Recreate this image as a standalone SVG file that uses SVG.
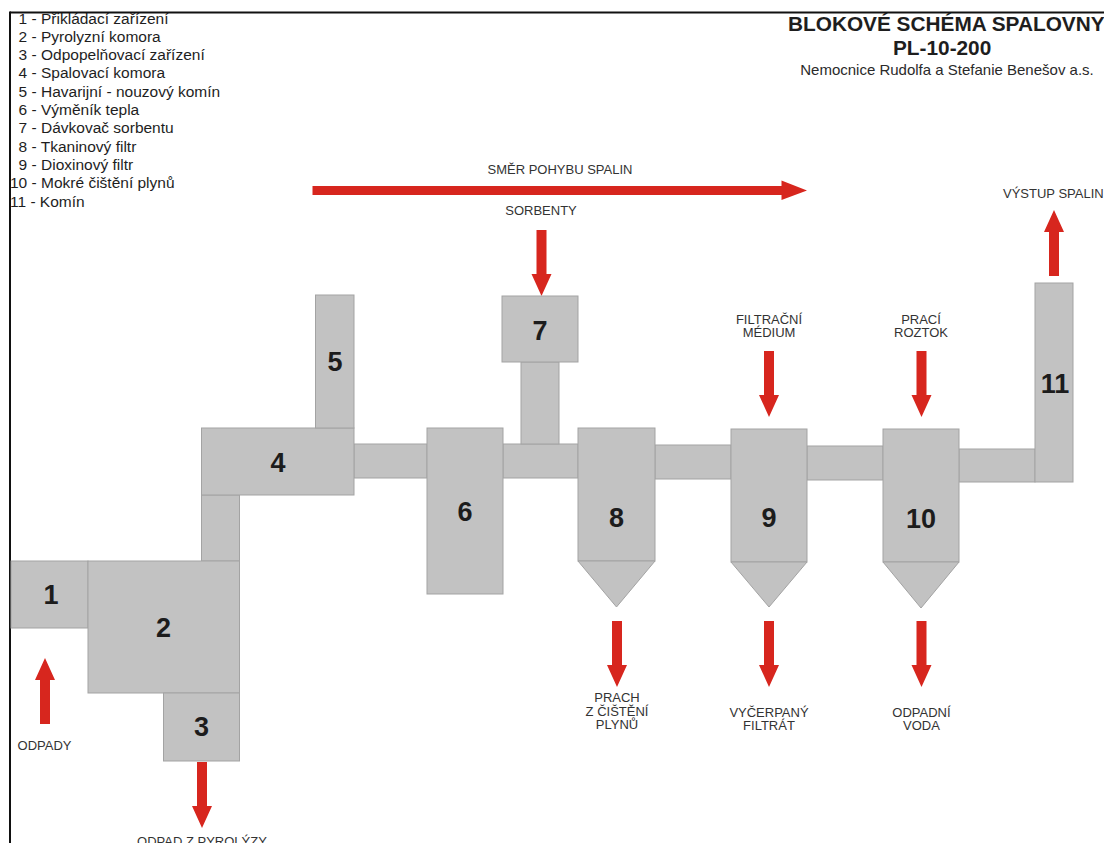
<svg xmlns="http://www.w3.org/2000/svg" xmlns:xlink="http://www.w3.org/1999/xlink" width="1104" height="843" viewBox="0 0 1104 843">
  <style>
    .box { fill: #c2c2c2; stroke: #a3a3a3; stroke-width: 1; }
    .num { font-family: "Liberation Sans", Arial, sans-serif; font-weight: bold; font-size: 27px; fill: #1c1c1c; text-anchor: middle; }
    .lbl { font-family: "Liberation Sans", Arial, sans-serif; font-size: 13px; fill: #333333; text-anchor: middle; }
    .lbl-start { font-family: "Liberation Sans", Arial, sans-serif; font-size: 13px; fill: #333333; text-anchor: start; }
    .leg { font-family: "Liberation Sans", Arial, sans-serif; font-size: 15.5px; fill: #1e1e1e; }
    .title { font-family: "Liberation Sans", Arial, sans-serif; font-weight: bold; font-size: 20.8px; fill: #1e1e1e; }
    .sub { font-family: "Liberation Sans", Arial, sans-serif; font-size: 15px; fill: #2a2a2a; text-anchor: middle; }
    .arrow { fill: #d7261e; }
  </style>
  <defs>
    <path id="arrowDown" d="M-5,0 H5 V44 H10 L0,66 L-10,44 H-5 Z"/>
    <path id="arrowUp" d="M-5,0 H5 V-44 H10 L0,-66 L-10,-44 H-5 Z"/>
  </defs>
  <rect x="0" y="0" width="1104" height="843" fill="#ffffff"/>

  <g id="legend">
    <text class="leg" x="18.6" y="23.5">1 - Přikládací zařízení</text>
    <text class="leg" x="18.6" y="41.8">2 - Pyrolyzní komora</text>
    <text class="leg" x="18.6" y="60.1">3 - Odpopelňovací zařízení</text>
    <text class="leg" x="18.6" y="78.4">4 - Spalovací komora</text>
    <text class="leg" x="18.6" y="96.7">5 - Havarijní - nouzový komín</text>
    <text class="leg" x="18.6" y="115">6 - Výměník tepla</text>
    <text class="leg" x="18.6" y="133.3">7 - Dávkovač sorbentu</text>
    <text class="leg" x="18.6" y="151.6">8 - Tkaninový filtr</text>
    <text class="leg" x="18.6" y="169.9">9 - Dioxinový filtr</text>
    <text class="leg" x="10" y="188.2">10 - Mokré čištění plynů</text>
    <text class="leg" x="10" y="206.5">11 - Komín</text>
  </g>

  <g id="frame">
    <rect x="0" y="0" width="1104" height="11.5" fill="#ffffff"/>
    <line x1="10" y1="12.5" x2="1104" y2="12.5" stroke="#111111" stroke-width="2"/>
    <line x1="10" y1="11.5" x2="10" y2="843" stroke="#111111" stroke-width="2"/>
  </g>

  <g id="title">
    <text class="title" x="788" y="31">BLOKOVÉ SCHÉMA SPALOVNY</text>
    <text class="title" x="893" y="55">PL-10-200</text>
    <text class="sub" x="947" y="75">Nemocnice Rudolfa a Stefanie Benešov a.s.</text>
  </g>

  <g id="connectors">
    <g id="pipes">
      <rect class="box" x="201.5" y="495" width="38" height="66"/>
      <rect class="box" x="354" y="444" width="73" height="34"/>
      <rect class="box" x="503" y="444" width="75" height="34"/>
      <rect class="box" x="521" y="362" width="38" height="82"/>
      <rect class="box" x="655" y="445" width="76" height="34"/>
      <rect class="box" x="807" y="446" width="76" height="34"/>
      <rect class="box" x="959" y="449" width="76" height="33"/>
    </g>
    <g id="flows">
      <path class="arrow" d="M312.5,186 H781.5 V180.5 L807,190.5 L781.5,200 V195 H312.5 Z"/>
      <use class="arrow" xlink:href="#arrowDown" x="541.5" y="230"/>
      <use class="arrow" xlink:href="#arrowDown" x="769" y="351"/>
      <use class="arrow" xlink:href="#arrowDown" x="921.5" y="351"/>
      <use class="arrow" xlink:href="#arrowUp" x="1054" y="276"/>
      <use class="arrow" xlink:href="#arrowUp" x="45" y="724"/>
      <use class="arrow" xlink:href="#arrowDown" x="202" y="762"/>
      <use class="arrow" xlink:href="#arrowDown" x="617" y="621"/>
      <use class="arrow" xlink:href="#arrowDown" x="769" y="621"/>
      <use class="arrow" xlink:href="#arrowDown" x="921.5" y="621"/>
    </g>
  </g>

  <g id="node1"><rect class="box" x="11" y="561" width="77" height="67"/><text class="num" x="51" y="604">1</text></g>
  <g id="node2"><rect class="box" x="88" y="561" width="151.5" height="132"/><text class="num" x="163.5" y="637">2</text></g>
  <g id="node3"><rect class="box" x="163.5" y="693" width="76" height="68"/><text class="num" x="201.5" y="736">3</text></g>
  <g id="node4"><rect class="box" x="201.5" y="428" width="152.5" height="67"/><text class="num" x="278" y="472">4</text></g>
  <g id="node5"><rect class="box" x="315.5" y="295" width="38.5" height="133"/><text class="num" x="335" y="371">5</text></g>
  <g id="node6"><rect class="box" x="427" y="428" width="76" height="166"/><text class="num" x="465" y="521">6</text></g>
  <g id="node7"><rect class="box" x="502" y="296" width="76" height="66"/><text class="num" x="540" y="339.5">7</text></g>
  <g id="node8"><rect class="box" x="578" y="428" width="77" height="133"/><polygon class="box" points="578,561 655,561 616.5,607"/><text class="num" x="616.5" y="527">8</text></g>
  <g id="node9"><rect class="box" x="731" y="429" width="76" height="133"/><polygon class="box" points="731,562 807,562 769,607"/><text class="num" x="769" y="527">9</text></g>
  <g id="node10"><rect class="box" x="883" y="429" width="76" height="133"/><polygon class="box" points="883,562 959,562 921,608"/><text class="num" x="921" y="528">10</text></g>
  <g id="node11"><rect class="box" x="1035" y="283" width="38" height="199"/><text class="num" x="1055" y="393">11</text></g>

  <g id="labels">
    <text class="lbl" x="560" y="173.5">SMĚR POHYBU SPALIN</text>
    <text class="lbl" x="541" y="215">SORBENTY</text>
    <text class="lbl" x="769" y="323.5">FILTRAČNÍ</text>
    <text class="lbl" x="769" y="337">MÉDIUM</text>
    <text class="lbl" x="921" y="323.5">PRACÍ</text>
    <text class="lbl" x="921" y="337">ROZTOK</text>
    <text class="lbl-start" x="1003" y="197.5">VÝSTUP SPALIN</text>
    <text class="lbl" x="44.5" y="749.5">ODPADY</text>
    <text class="lbl" x="202" y="846">ODPAD Z PYROLÝZY</text>
    <text class="lbl" x="617" y="702">PRACH</text>
    <text class="lbl" x="617" y="715.5">Z ČIŠTĚNÍ</text>
    <text class="lbl" x="617" y="729">PLYNŮ</text>
    <text class="lbl" x="769" y="716.5">VYČERPANÝ</text>
    <text class="lbl" x="769" y="729.5">FILTRÁT</text>
    <text class="lbl" x="921.5" y="716.5">ODPADNÍ</text>
    <text class="lbl" x="921.5" y="729.5">VODA</text>
  </g>
</svg>
